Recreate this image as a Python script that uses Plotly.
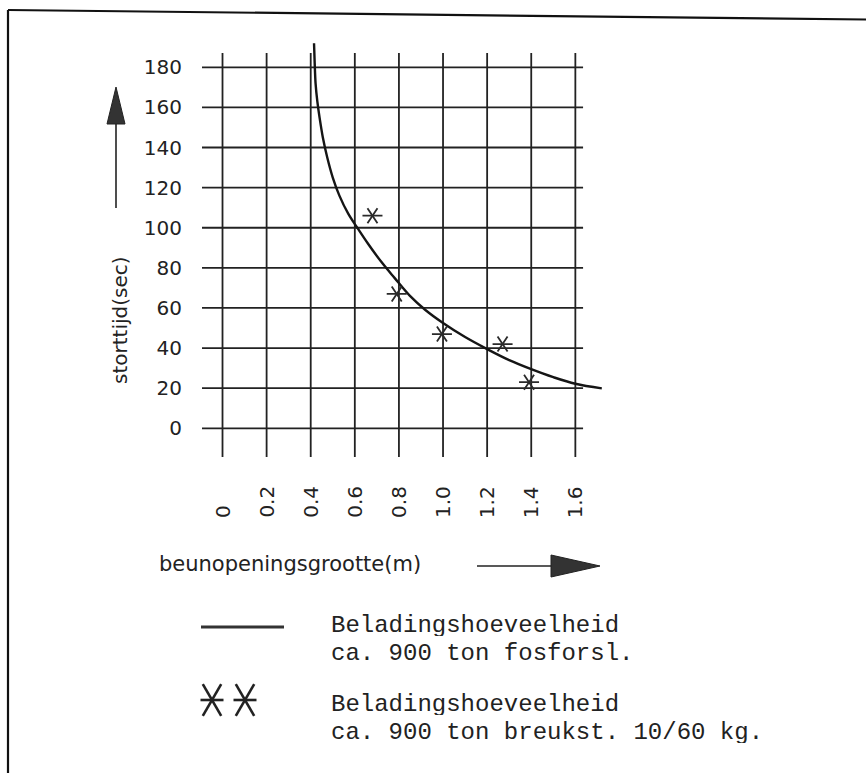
import plotly.graph_objects as go

# ---------------- data ----------------
curve_x = [0.415, 0.418, 0.422, 0.430, 0.440, 0.455, 0.475, 0.500, 0.530, 0.570, 0.611, 0.660,
           0.720, 0.780, 0.850, 0.920, 1.000, 1.100, 1.200, 1.300, 1.400, 1.500, 1.600, 1.720]
curve_y = [192, 182, 172, 163, 155, 145, 135, 125, 116, 107, 100, 92,
           83, 75, 66, 59, 52.5, 45.5, 39.5, 34, 29.5, 25.5, 22.2, 19.9]

star_x = [0.68, 0.79, 0.995, 1.27, 1.39]
star_y = [106, 67, 47, 42, 23]

x_ticks = [0, 0.2, 0.4, 0.6, 0.8, 1.0, 1.2, 1.4, 1.6]
x_tick_labels = ["0", "0.2", "0.4", "0.6", "0.8", "1.0", "1.2", "1.4", "1.6"]
y_ticks = [0, 20, 40, 60, 80, 100, 120, 140, 160, 180]
y_tick_labels = [str(v) for v in y_ticks]

x_title = "beunopeningsgrootte(m)"
y_title = "storttijd(sec)"
legend_lines = ["Beladingshoeveelheid", "ca. 900 ton fosforsl.",
                "Beladingshoeveelheid", "ca. 900 ton breukst. 10/60 kg."]

# ---------------- layout helpers ----------------
W, H = 866, 773


def px(x):
    return x / W


def py(y):
    return 1 - y / H


INK = "#222222"
SANS = "DejaVu Sans"
MONO = "Liberation Mono"

# grid extents (data units)
GX0, GX1 = -0.093, 1.635
GY0, GY1 = -14.3, 187.1

fig = go.Figure()

fig.add_trace(go.Scatter(
    x=curve_x, y=curve_y, mode="lines", line=dict(color="#151515", width=2.4, shape="spline", smoothing=1.0),
    showlegend=False, hoverinfo="skip"))

for sym in ["y-left-open", "y-right-open"]:
    fig.add_trace(go.Scatter(
        x=star_x, y=star_y, mode="markers",
        marker=dict(symbol=sym, size=12.5, color="#2a2a2a", line=dict(color="#2a2a2a", width=1.8)),
        showlegend=False, hoverinfo="skip", cliponaxis=False))

shapes = []
# grid lines
for v in x_ticks:
    shapes.append(dict(type="line", xref="x", yref="y", x0=v, x1=v, y0=GY0, y1=GY1,
                       line=dict(color=INK, width=1.8), layer="below"))
for v in y_ticks:
    shapes.append(dict(type="line", xref="x", yref="y", x0=GX0, x1=GX1, y0=v, y1=v,
                       line=dict(color=INK, width=1.8), layer="below"))

# frame
shapes.append(dict(type="line", xref="paper", yref="paper", x0=px(8), x1=px(8), y0=py(10), y1=py(773),
                   line=dict(color="#111", width=2.2)))
shapes.append(dict(type="line", xref="paper", yref="paper", x0=px(8), x1=px(866), y0=py(10), y1=py(19.5),
                   line=dict(color="#111", width=2.2)))

# y arrow
shapes.append(dict(type="line", xref="paper", yref="paper", x0=px(116), x1=px(116), y0=py(208), y1=py(120),
                   line=dict(color=INK, width=1.6)))
shapes.append(dict(type="path", xref="paper", yref="paper",
                   path=f"M {px(116)} {py(87)} L {px(107)} {py(124)} L {px(125)} {py(124)} Z",
                   fillcolor="#333333", line=dict(color="#222", width=1)))
# x arrow
shapes.append(dict(type="line", xref="paper", yref="paper", x0=px(477), x1=px(553), y0=py(566), y1=py(566),
                   line=dict(color=INK, width=1.6)))
shapes.append(dict(type="path", xref="paper", yref="paper",
                   path=f"M {px(600)} {py(566)} L {px(551)} {py(555)} L {px(551)} {py(577)} Z",
                   fillcolor="#333333", line=dict(color="#222", width=1)))

# legend line sample
shapes.append(dict(type="line", xref="paper", yref="paper", x0=px(201), x1=px(284), y0=py(627), y1=py(627),
                   line=dict(color="#333", width=3)))
# legend asterisks
for cx in (212, 245):
    cy = 700
    for (dx, dy) in [(11.5, 0), (9.2, 15.8), (9.2, -15.8)]:
        shapes.append(dict(type="line", xref="paper", yref="paper",
                           x0=px(cx - dx), x1=px(cx + dx), y0=py(cy - dy), y1=py(cy + dy),
                           line=dict(color="#222", width=2.6)))

annotations = []
for v, t in zip(x_ticks, x_tick_labels):
    annotations.append(dict(x=v, xref="x", y=py(520), yref="paper", text=t, textangle=-90,
                            xanchor="center", yanchor="bottom", showarrow=False,
                            font=dict(family=SANS, size=20, color=INK)))

annotations.append(dict(x=px(120), y=py(320), xref="paper", yref="paper", text=y_title, textangle=-90,
                        xanchor="center", yanchor="middle", showarrow=False,
                        font=dict(family=SANS, size=20, color=INK)))
annotations.append(dict(x=px(157), y=py(564), xref="paper", yref="paper", text=x_title,
                        xanchor="left", yanchor="middle", showarrow=False,
                        font=dict(family=SANS, size=21, color=INK)))

for txt, yy in zip(legend_lines, [625, 653, 704, 732]):
    annotations.append(dict(x=px(329), y=py(yy), xref="paper", yref="paper", text=txt,
                            xanchor="left", yanchor="middle", showarrow=False, height=22,
                            font=dict(family=MONO, size=24, color=INK)))

fig.update_layout(
    width=W, height=H, margin=dict(l=0, r=0, t=0, b=0),
    paper_bgcolor="white", plot_bgcolor="white",
    shapes=shapes, annotations=annotations, showlegend=False,
    xaxis=dict(domain=[px(202), px(606)], range=[GX0, 1.739], showgrid=False, zeroline=False,
               showticklabels=False, showline=False, ticks=""),
    yaxis=dict(domain=[py(457), py(40)], range=[GY0, 193.6], showgrid=False, zeroline=False,
               showline=False, tickvals=y_ticks, ticktext=y_tick_labels, ticks="",
               ticklabelstandoff=19, tickfont=dict(family=SANS, size=20, color=INK)),
)

fig.write_html("out.html")
